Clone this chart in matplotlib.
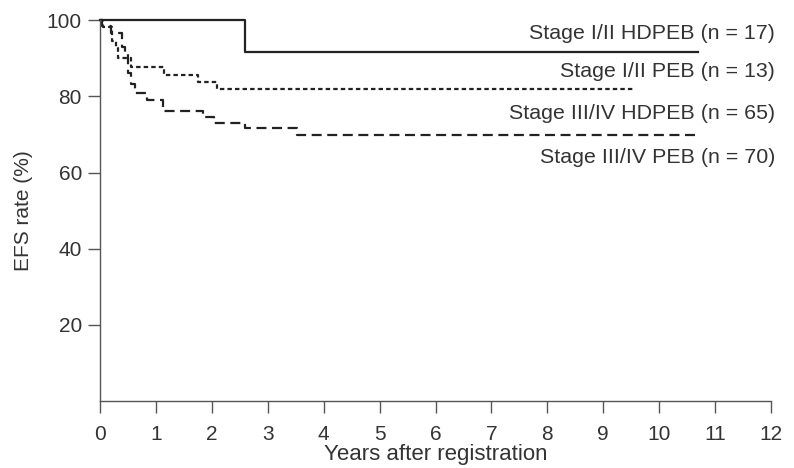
import matplotlib
matplotlib.use('Agg')
import matplotlib.pyplot as plt

# Kaplan-Meier step curves (years, EFS %)
t_hd12 = [0, 2.6, 10.7]
efs_hd12 = [100, 91.7, 91.7]

t_peb12 = [0, 0.05, 0.22, 0.28, 0.33, 0.55, 1.15, 1.75, 2.1, 9.55]
efs_peb12 = [100, 98.2, 94.5, 92.6, 90.0, 87.7, 85.5, 83.8, 81.8, 81.8]

t_st34 = [0, 0.03, 0.2, 0.4, 0.45, 0.5, 0.55, 0.62, 0.84, 1.13, 1.85, 2.03, 2.6, 3.52, 10.7]
efs_st34 = [100, 98.4, 96.5, 93.0, 91.0, 86.0, 83.2, 80.8, 79.0, 76.2, 74.5, 73.1, 71.8, 69.8, 69.8]

labels = ['Stage I/II HDPEB (n = 17)', 'Stage I/II PEB (n = 13)',
          'Stage III/IV HDPEB (n = 65)', 'Stage III/IV PEB (n = 70)']
label_y = [96.6, 86.4, 75.6, 64.0]

xticks = list(range(0, 13))
yticks = [20, 40, 60, 80, 100]

fig = plt.figure(figsize=(7.94, 4.68), dpi=100)
ax = fig.add_axes([0.126, 0.143, 0.845, 0.814])

ink = '#222222'
txt = '#333333'
fs = 15
ax.step(t_hd12, efs_hd12, where='post', color=ink, lw=1.6, clip_on=False)
ax.step(t_peb12, efs_peb12, where='post', color=ink, lw=1.6,
        linestyle=(0, (2.0, 1.4)), clip_on=False)
ax.step(t_st34, efs_st34, where='post', color=ink, lw=1.6,
        linestyle=(0, (4.5, 2.5)), clip_on=False)

for lab, y in zip(labels, label_y):
    ax.text(12.07, y, lab, ha='right', va='center', fontsize=15.4,
            family='Liberation Sans', color=txt)

ax.set_xlim(0, 12)
ax.set_ylim(0, 100)
ax.set_xticks(xticks)
ax.set_yticks(yticks)
ax.set_xticklabels([str(v) for v in xticks], family='Liberation Sans',
                   fontsize=fs, color=txt)
ax.set_yticklabels([str(v) for v in yticks], family='Liberation Sans',
                   fontsize=fs, color=txt)
ax.tick_params(axis='both', direction='out', length=8.5, width=1.0, color='#555555')
ax.tick_params(axis='x', pad=9)
ax.tick_params(axis='y', pad=4.5)

for s in ['top', 'right']:
    ax.spines[s].set_visible(False)
for s in ['left', 'bottom']:
    ax.spines[s].set_color('#555555')
    ax.spines[s].set_linewidth(1.0)

ax.set_xlabel('Years after registration', fontsize=16,
              family='Liberation Sans', color=txt, labelpad=0)
ax.set_ylabel('EFS rate (%)', fontsize=fs, family='Liberation Sans', color=txt, labelpad=10)

fig.savefig('out.png', dpi=100)
